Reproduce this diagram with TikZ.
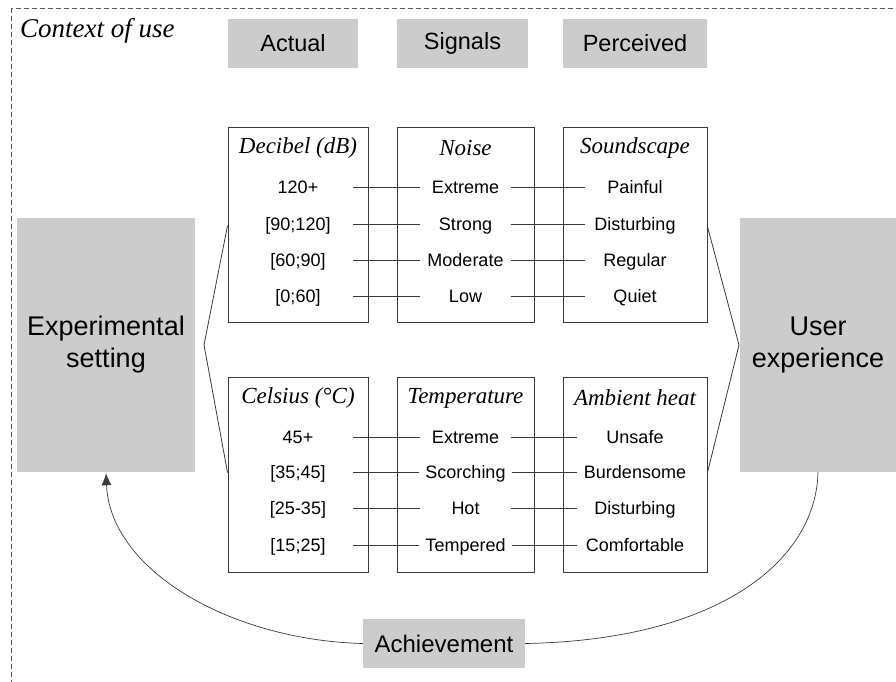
\documentclass[tikz,border=0pt]{standalone}
\usepackage{fontspec}
\setmainfont{Liberation Serif}
\setsansfont{Liberation Sans}
\usetikzlibrary{arrows.meta}
\definecolor{boxgray}{HTML}{CCCCCC}
\definecolor{edgegray}{HTML}{3A3A3A}
\tikzset{
  graybox/.style={fill=boxgray, draw=none, inner sep=0pt, align=center, font=\sffamily},
  panel/.style={draw=edgegray, line width=0.9pt, inner sep=0pt},
  head/.style={font=\fontsize{23}{26}\selectfont\itshape, inner sep=0pt},
  cell/.style={font=\sffamily\fontsize{18}{21}\selectfont, inner ysep=0pt, inner xsep=6pt, text height=13pt, text depth=0pt},
  lcell/.style={cell, minimum width=110pt},
  mcell/.style={cell, minimum width=90pt},
  rcell/.style={cell, minimum width=100pt},
  link/.style={draw=edgegray, line width=0.8pt},
}
\begin{document}
\begin{tikzpicture}[x=1pt, y=-1pt]
\useasboundingbox (0,0) rectangle (896,681);
% outer dashed frame
\draw[draw=black!65, line width=0.7pt, dash pattern=on 5pt off 3pt] (11,8) rectangle (900,700);
\node[anchor=base west, font=\fontsize{27}{29}\selectfont\itshape, inner sep=0pt] (ctx) at (20,37) {Context of use};

% column titles
\node[graybox, minimum width=130pt, minimum height=49pt, font=\sffamily\fontsize{23.5}{26}\selectfont] (actual) at (293,43.5) {Actual};
\node[graybox, minimum width=131pt, minimum height=49pt, font=\sffamily\fontsize{23.5}{26}\selectfont] (signals) at (462.5,43.5) {Signals};
\node[graybox, minimum width=144pt, minimum height=49pt, font=\sffamily\fontsize{23.5}{26}\selectfont] (perceived) at (635,43.5) {Perceived};

% side boxes
\node[graybox, minimum width=178pt, minimum height=254pt, font=\sffamily\fontsize{27}{32}\selectfont] (exp) at (106,345) {Experimental\\setting};
\node[graybox, minimum width=156pt, minimum height=254pt, font=\sffamily\fontsize{27}{32}\selectfont] (ux) at (818,345) {User\\experience};

% panels
\node[panel, minimum width=140pt, minimum height=195pt] (dbbox) at (298,224.5) {};
\node[panel, minimum width=137pt, minimum height=195pt] (noisebox) at (465.5,224.5) {};
\node[panel, minimum width=144pt, minimum height=195pt] (soundbox) at (635,224.5) {};
\node[panel, minimum width=140pt, minimum height=195pt] (celbox) at (298,474.5) {};
\node[panel, minimum width=137pt, minimum height=195pt] (tempbox) at (465.5,474.5) {};
\node[panel, minimum width=144pt, minimum height=195pt] (heatbox) at (635,474.5) {};

\node[head] (h1) at (298,148) {Decibel (dB)};
\node[head] (h2) at (465.5,148) {Noise};
\node[head] (h3) at (635,148) {Soundscape};
\node[head] (h4) at (298,398) {Celsius (°C)};
\node[head] (h5) at (465.5,398) {Temperature};
\node[head] (h6) at (635,398) {Ambient heat};

% noise rows
\foreach \i/\y/\a/\b/\c in {1/187/120+/Extreme/Painful, 2/224/{[90;120]}/Strong/Disturbing, 3/260/{[60;90]}/Moderate/Regular, 4/296/{[0;60]}/Low/Quiet}{
  \node[lcell] (na\i) at (298,\y) {\a};
  \node[mcell] (nb\i) at (465.5,\y) {\b};
  \node[rcell] (nc\i) at (635,\y) {\c};
  \draw[link] (na\i.east) -- (nb\i.west);
  \draw[link] (nb\i.east) -- (nc\i.west);
}
% temperature rows
\foreach \i/\y/\a/\b/\c in {1/437/45+/Extreme/Unsafe, 2/472/{[35;45]}/Scorching/Burdensome, 3/508/{[25-35]}/Hot/Disturbing, 4/545/{[15;25]}/Tempered/Comfortable}{
  \node[lcell] (ta\i) at (298,\y) {\a};
  \node[mcell] (tb\i) at (465.5,\y) {\b};
  \node[rcell, minimum width=116pt] (tc\i) at (635,\y) {\c};
  \draw[link] (ta\i.east) -- (tb\i.west);
  \draw[link] (tb\i.east) -- (tc\i.west);
}

% fans between side boxes and panels
\coordinate (expapex) at (204,345);
\coordinate (uxapex) at (739,345);
\path (dbbox.north west) ++(0,99) coordinate (d1);
\path (celbox.north west) ++(0,96) coordinate (c1);
\draw[link] (d1) -- (expapex) -- (c1);
\path (soundbox.north east) ++(0,100) coordinate (s1);
\path (heatbox.north east) ++(0,96) coordinate (s2);
\draw[link] (s1) -- (uxapex) -- (s2);

% feedback loop
\node[graybox, minimum width=162pt, minimum height=49pt, font=\sffamily\fontsize{24}{26}\selectfont] (ach) at (444,643.5) {Achievement};
\draw[link, line width=0.7pt] (ux.south) .. controls (816,560) and (720,640) .. (ach.east);
\draw[link, line width=0.7pt, shorten >=1pt, -{Latex[length=12pt,width=10pt]}] (ach.west) .. controls (230,640) and (110,570) .. (exp.south);
\end{tikzpicture}
\end{document}
